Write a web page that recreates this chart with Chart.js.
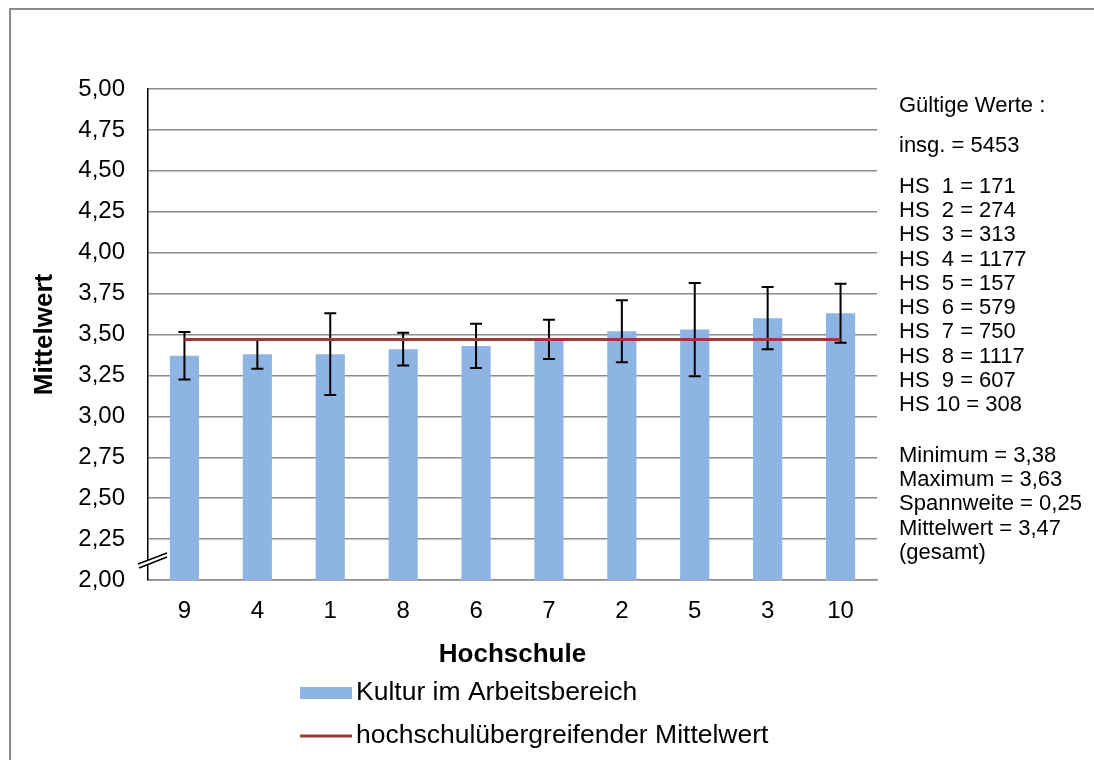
<!DOCTYPE html>
<html>
<head>
<meta charset="utf-8">
<title>Kultur im Arbeitsbereich</title>
<script src="https://cdn.jsdelivr.net/npm/chart.js@4.4.1/dist/chart.umd.min.js"></script>
<style>
  html, body { margin:0; padding:0; background:#fff; overflow:hidden; }
  #rahmen { position:absolute; left:9px; top:8px; width:1200px; height:900px; border-top:2px solid #8c8c8c; border-left:2px solid #8c8c8c; }
  #caja { position:absolute; left:0; top:0; width:1094px; height:760px; }
</style>
</head>
<body>
<div id="rahmen"></div>
<div id="caja"><canvas id="grafica"></canvas></div>
<script>
// Hochschulen sortiert nach Mittelwert
const hochschulen = ['9', '4', '1', '8', '6', '7', '2', '5', '3', '10'];
const mittelwerte = [3.37, 3.38, 3.38, 3.41, 3.43, 3.47, 3.52, 3.53, 3.60, 3.63];
const fehler = [0.145, 0.09, 0.25, 0.10, 0.135, 0.12, 0.19, 0.285, 0.19, 0.18]; // +/- fuer die Fehlerbalken
const gesamtMittel = [3.47, 3.47, 3.47, 3.47, 3.47, 3.47, 3.47, 3.47, 3.47, 3.47];

// Textfeld rechts (Zahl = zusaetzlicher Abstand)
const infoTexte = ['Gültige Werte :', 16, 'insg. = 5453', 16,
  'HS  1 = 171', 'HS  2 = 274', 'HS  3 = 313', 'HS  4 = 1177', 'HS  5 = 157',
  'HS  6 = 579', 'HS  7 = 750', 'HS  8 = 1117', 'HS  9 = 607', 'HS 10 = 308', 26,
  'Minimum = 3,38', 'Maximum = 3,63', 'Spannweite = 0,25', 'Mittelwert = 3,47', '(gesamt)'];

const colorBarra = '#8EB4E3';
const colorLinea = '#9B3A37';
const fuente = "'Liberation Sans', Arial, sans-serif";

Chart.defaults.font.family = fuente;
Chart.defaults.color = '#000';

// fehlerbalken, direkt nach den Saeulen gezeichnet (Linie liegt darueber)
const fehlerBalken = {
  id: 'fehlerBalken',
  afterDatasetDraw(chart, args) {
    if (args.index !== 0) return;
    const ctx = chart.ctx, y = chart.scales.y;
    ctx.save();
    ctx.strokeStyle = '#000';
    ctx.lineWidth = 2;
    chart.getDatasetMeta(0).data.forEach((bar, i) => {
      const arriba = y.getPixelForValue(mittelwerte[i] + fehler[i]);
      const abajo = y.getPixelForValue(mittelwerte[i] - fehler[i]);
      ctx.beginPath();
      ctx.moveTo(bar.x, arriba); ctx.lineTo(bar.x, abajo);
      ctx.moveTo(bar.x - 6, arriba); ctx.lineTo(bar.x + 6, arriba);
      ctx.moveTo(bar.x - 6, abajo); ctx.lineTo(bar.x + 6, abajo);
      ctx.stroke();
    });
    ctx.restore();
  }
};

// Achsenbruch unten links, Legende und Textfeld
const extras = {
  id: 'extras',
  afterDraw(chart) {
    const ctx = chart.ctx, a = chart.chartArea;
    ctx.save();
    // Achsenbruch
    const bx = a.left, by = chart.scales.y.getPixelForValue(2.11);
    ctx.fillStyle = '#fff';
    ctx.beginPath();
    ctx.moveTo(bx - 10, by + 2); ctx.lineTo(bx + 19, by - 9);
    ctx.lineTo(bx + 19, by - 5); ctx.lineTo(bx - 9, by + 6);
    ctx.closePath(); ctx.fill();
    ctx.strokeStyle = '#000'; ctx.lineWidth = 1.5;
    ctx.beginPath();
    ctx.moveTo(bx - 10, by + 2); ctx.lineTo(bx + 19, by - 9);
    ctx.moveTo(bx - 9, by + 6); ctx.lineTo(bx + 19, by - 5);
    ctx.stroke();

    // Legende
    const lx = a.left + 152, ly1 = a.bottom + 113, ly2 = a.bottom + 156;
    ctx.fillStyle = colorBarra;
    ctx.fillRect(lx, ly1 - 6, 52, 12);
    ctx.strokeStyle = colorLinea; ctx.lineWidth = 3;
    ctx.beginPath(); ctx.moveTo(lx, ly2); ctx.lineTo(lx + 52, ly2); ctx.stroke();
    ctx.fillStyle = '#000';
    ctx.font = '26.5px ' + fuente;
    ctx.textBaseline = 'middle';
    ctx.textAlign = 'left';
    ctx.fillText(chart.data.datasets[0].label, lx + 56, ly1);
    ctx.fillText(chart.data.datasets[1].label, lx + 56, ly2);

    // Textfeld rechts
    ctx.font = '22px ' + fuente;
    let ty = a.top + 17;
    infoTexte.forEach(t => {
      if (typeof t === 'number') { ty += t; return; }
      ctx.fillText(t, a.right + 22, ty);
      ty += 24.3;
    });
    ctx.restore();
  }
};

var ctx = document.getElementById('grafica').getContext('2d');
var grafica = new Chart(ctx, {
  data: {
    labels: hochschulen,
    datasets: [{
      type: 'bar',
      label: 'Kultur im Arbeitsbereich',
      data: mittelwerte,
      backgroundColor: colorBarra,
      barPercentage: 0.4,
      categoryPercentage: 1,
      order: 1
    }, {
      type: 'line',
      label: 'hochschulübergreifender Mittelwert',
      data: gesamtMittel,
      borderColor: colorLinea,
      borderWidth: 3,
      pointRadius: 0,
      order: 0
    }]
  },
  options: {
    responsive: true,
    maintainAspectRatio: false,
    animation: false,
    layout: { padding: { left: 20, right: 217, top: 89, bottom: 80 } },
    plugins: { legend: { display: false }, tooltip: { enabled: false } },
    scales: {
      x: {
        grid: { display: false, drawTicks: false },
        border: { display: true, color: '#8c8c8c', width: 1.5 },
        ticks: { font: { size: 24 }, padding: 17 },
        title: { display: true, text: 'Hochschule', font: { size: 26, weight: 'bold' }, padding: { top: 0, bottom: 10 } },
        afterFit(s) { s.height = 100; }
      },
      y: {
        min: 2, max: 5,
        ticks: {
          stepSize: 0.25, font: { size: 24 }, padding: 23,
          callback: v => v.toFixed(2).replace('.', ',')
        },
        grid: { color: '#8c8c8c', lineWidth: 1.5, drawTicks: false },
        border: { color: '#000', width: 1.5 },
        title: { display: true, text: 'Mittelwert', font: { size: 26, weight: 'bold' }, padding: { top: 9, bottom: 0 } },
        afterFit(s) { s.width = 128; }
      }
    }
  },
  plugins: [fehlerBalken, extras]
});
</script>
</body>
</html>
